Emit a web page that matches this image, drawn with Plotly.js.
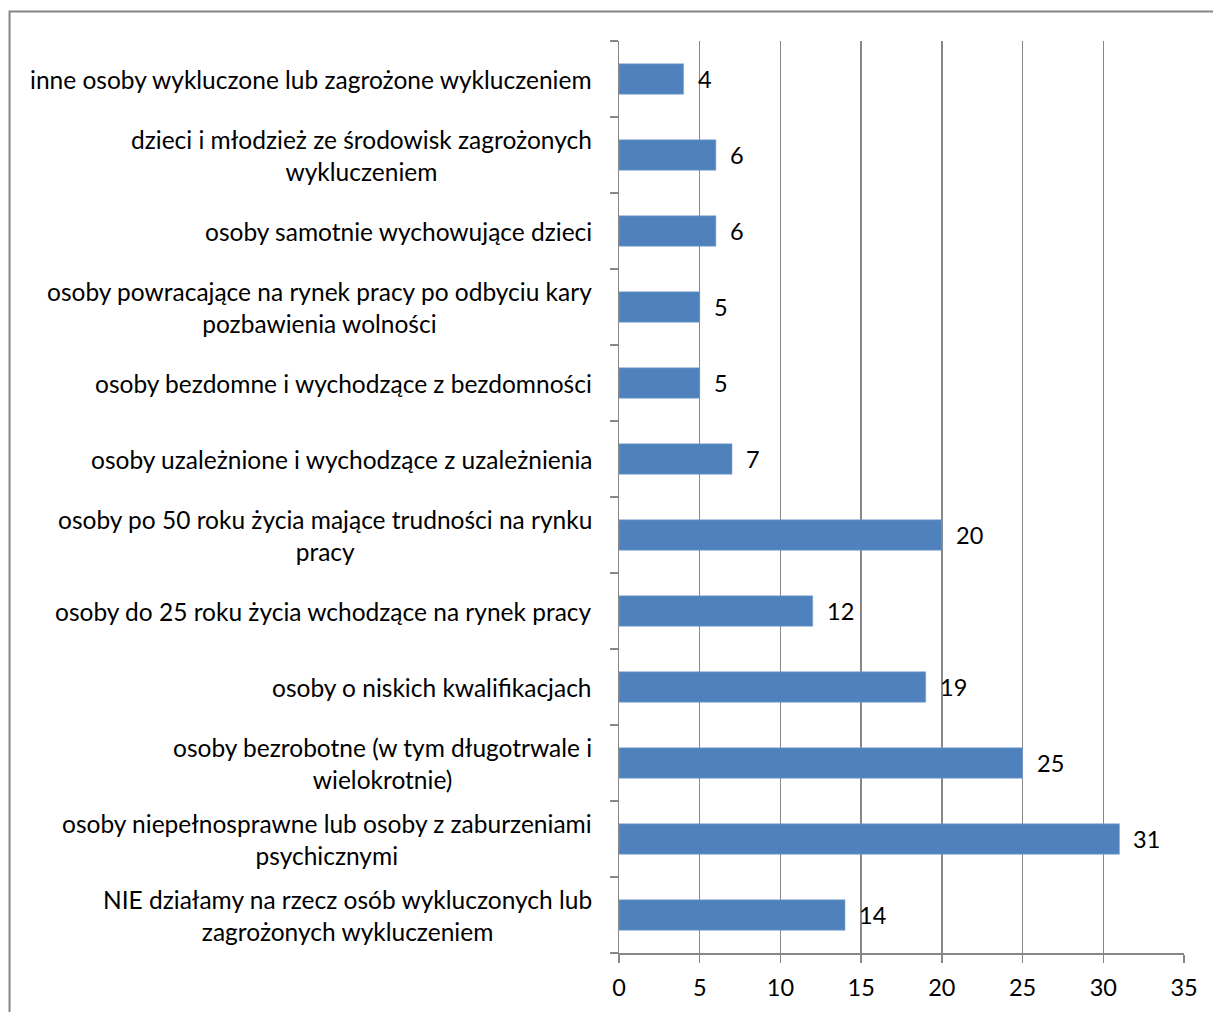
<!DOCTYPE html>
<html>
<head>
<meta charset="utf-8">
<script src="https://cdn.plot.ly/plotly-3.0.1.min.js"></script>
<style>
html,body{margin:0;padding:0;background:#fff;}
#chart{width:1213px;height:1012px;}
</style>
</head>
<body>
<div id="chart"></div>
<script>
// Categories listed bottom -> top
const categories = [
  "NIE działamy na rzecz osób wykluczonych lub<br>zagrożonych wykluczeniem",
  "osoby niepełnosprawne lub osoby z zaburzeniami<br>psychicznymi",
  "osoby bezrobotne (w tym długotrwale i<br>wielokrotnie)",
  "osoby o niskich kwalifikacjach",
  "osoby do 25 roku życia wchodzące na rynek pracy",
  "osoby po 50 roku życia mające trudności na rynku<br>pracy",
  "osoby uzależnione i wychodzące z uzależnienia",
  "osoby bezdomne i wychodzące z bezdomności",
  "osoby powracające na rynek pracy po odbyciu kary<br>pozbawienia wolności",
  "osoby samotnie wychowujące dzieci",
  "dzieci i młodzież ze środowisk zagrożonych<br>wykluczeniem",
  "inne osoby wykluczone lub zagrożone wykluczeniem"
];
const values = [14, 31, 25, 19, 12, 20, 7, 5, 5, 6, 6, 4];
const xTicks = [0, 5, 10, 15, 20, 25, 30, 35];

const FONT = "Lato, 'Liberation Sans', sans-serif";
const FS = 23.5;
const CAT_FS = 24.5;
const GRID = "#878787";

const trace = {
  type: "bar",
  orientation: "h",
  y: categories,
  x: values,
  marker: {color: "#4F81BD", line: {color: "#7FA3D3", width: 0.6}},
  width: 0.4,
  hoverinfo: "x+y"
};

const annotations = [];
categories.forEach((c, i) => {
  annotations.push({
    x: 0, y: c, xref: "x", yref: "y",
    text: c, showarrow: false,
    xanchor: "right", yanchor: "middle",
    align: "center", xshift: -25,
    font: {family: FONT, size: CAT_FS, color: "#000"}
  });
  annotations.push({
    x: values[i], y: c, xref: "x", yref: "y",
    text: String(values[i]), showarrow: false,
    xanchor: "left", yanchor: "middle",
    xshift: 12,
    font: {family: FONT, size: FS, color: "#000"}
  });
});

const layout = {
  width: 1213, height: 1012,
  margin: {l: 618.5, r: 29, t: 41, b: 59, pad: 0},
  paper_bgcolor: "#fff", plot_bgcolor: "#fff",
  showlegend: false,
  font: {family: FONT, size: FS, color: "#000"},
  xaxis: {
    range: [0, 35],
    tickvals: xTicks,
    ticktext: xTicks.map(String),
    showgrid: true, gridcolor: GRID, gridwidth: 1.5,
    zeroline: false,
    showline: true, linecolor: GRID, linewidth: 1.5,
    ticks: "outside", ticklen: 8, tickwidth: 1.5, tickcolor: GRID,
    ticklabelstandoff: 5,
    tickfont: {family: FONT, size: FS, color: "#000"},
    fixedrange: true
  },
  yaxis: {
    type: "category",
    categoryorder: "array", categoryarray: categories,
    showticklabels: false,
    tickson: "boundaries",
    ticks: "outside", ticklen: 8, tickwidth: 1.5, tickcolor: GRID,
    showgrid: false, zeroline: false,
    showline: true, linecolor: GRID, linewidth: 1.5,
    fixedrange: true
  },
  annotations: annotations,
  shapes: [{
    type: "rect", xref: "paper", yref: "paper",
    x0: -1.0787, x1: 1.3, y0: -0.3, y1: 1.0323,
    line: {color: "#868686", width: 2}, fillcolor: "rgba(0,0,0,0)"
  }]
};

Plotly.newPlot("chart", [trace], layout, {displayModeBar: false, staticPlot: true});
</script>
</body>
</html>
